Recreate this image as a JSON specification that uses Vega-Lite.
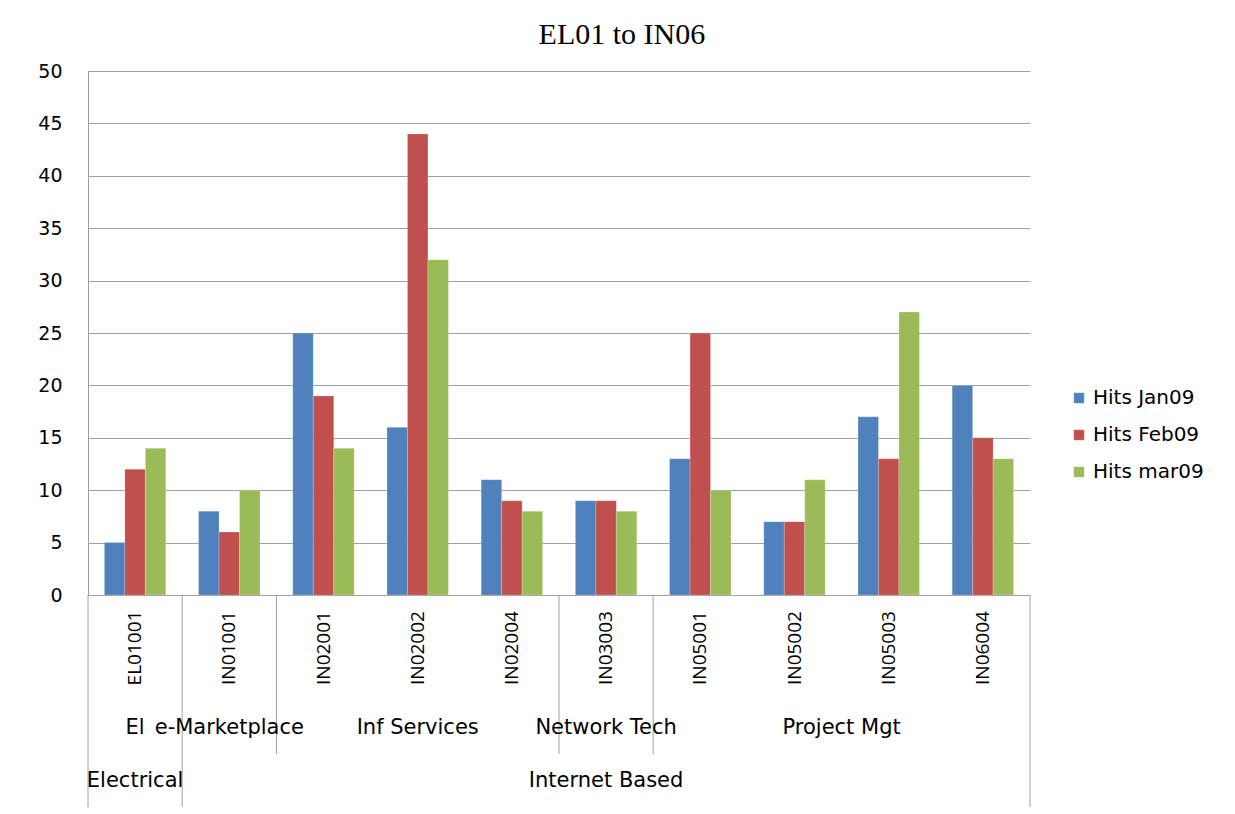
{
  "$schema": "https://vega.github.io/schema/vega-lite/v6.json",
  "autosize": {"type": "pad"},
  "padding": {"left": 37, "top": 20, "right": 0, "bottom": 0},
  "background": "white",
  "title": {"text": "EL01 to IN06", "font": "Liberation Serif", "fontSize": 30, "fontWeight": "normal", "color": "#000", "anchor": "middle", "dx": 1, "offset": 12},
  "spacing": 0,
  "bounds": "flush",
  "datasets": {
    "bars": [
      {"cat": "EL01001", "series": "Hits Jan09", "hits": 5},
      {"cat": "EL01001", "series": "Hits Feb09", "hits": 12},
      {"cat": "EL01001", "series": "Hits mar09", "hits": 14},
      {"cat": "IN01001", "series": "Hits Jan09", "hits": 8},
      {"cat": "IN01001", "series": "Hits Feb09", "hits": 6},
      {"cat": "IN01001", "series": "Hits mar09", "hits": 10},
      {"cat": "IN02001", "series": "Hits Jan09", "hits": 25},
      {"cat": "IN02001", "series": "Hits Feb09", "hits": 19},
      {"cat": "IN02001", "series": "Hits mar09", "hits": 14},
      {"cat": "IN02002", "series": "Hits Jan09", "hits": 16},
      {"cat": "IN02002", "series": "Hits Feb09", "hits": 44},
      {"cat": "IN02002", "series": "Hits mar09", "hits": 32},
      {"cat": "IN02004", "series": "Hits Jan09", "hits": 11},
      {"cat": "IN02004", "series": "Hits Feb09", "hits": 9},
      {"cat": "IN02004", "series": "Hits mar09", "hits": 8},
      {"cat": "IN03003", "series": "Hits Jan09", "hits": 9},
      {"cat": "IN03003", "series": "Hits Feb09", "hits": 9},
      {"cat": "IN03003", "series": "Hits mar09", "hits": 8},
      {"cat": "IN05001", "series": "Hits Jan09", "hits": 13},
      {"cat": "IN05001", "series": "Hits Feb09", "hits": 25},
      {"cat": "IN05001", "series": "Hits mar09", "hits": 10},
      {"cat": "IN05002", "series": "Hits Jan09", "hits": 7},
      {"cat": "IN05002", "series": "Hits Feb09", "hits": 7},
      {"cat": "IN05002", "series": "Hits mar09", "hits": 11},
      {"cat": "IN05003", "series": "Hits Jan09", "hits": 17},
      {"cat": "IN05003", "series": "Hits Feb09", "hits": 13},
      {"cat": "IN05003", "series": "Hits mar09", "hits": 27},
      {"cat": "IN06004", "series": "Hits Jan09", "hits": 20},
      {"cat": "IN06004", "series": "Hits Feb09", "hits": 15},
      {"cat": "IN06004", "series": "Hits mar09", "hits": 13}
    ],
    "labels": [
      {"label": "EL01001", "cat": "EL01001", "level": "id", "anchor": "center"},
      {"label": "IN01001", "cat": "IN01001", "level": "id", "anchor": "center"},
      {"label": "IN02001", "cat": "IN02001", "level": "id", "anchor": "center"},
      {"label": "IN02002", "cat": "IN02002", "level": "id", "anchor": "center"},
      {"label": "IN02004", "cat": "IN02004", "level": "id", "anchor": "center"},
      {"label": "IN03003", "cat": "IN03003", "level": "id", "anchor": "center"},
      {"label": "IN05001", "cat": "IN05001", "level": "id", "anchor": "center"},
      {"label": "IN05002", "cat": "IN05002", "level": "id", "anchor": "center"},
      {"label": "IN05003", "cat": "IN05003", "level": "id", "anchor": "center"},
      {"label": "IN06004", "cat": "IN06004", "level": "id", "anchor": "center"},
      {"label": "El", "cat": "EL01001", "level": "l2", "anchor": "center"},
      {"label": "e-Marketplace", "cat": "IN01001", "level": "l2", "anchor": "center"},
      {"label": "Inf Services", "cat": "IN02002", "level": "l2", "anchor": "center"},
      {"label": "Network Tech", "cat": "IN03003", "level": "l2", "anchor": "center"},
      {"label": "Project Mgt", "cat": "IN05002", "level": "l2", "anchor": "edge"},
      {"label": "Electrical", "cat": "EL01001", "level": "l1", "anchor": "center"},
      {"label": "Internet Based", "cat": "IN03003", "level": "l1", "anchor": "center"}
    ],
    "dividers": [
      {"cat": "EL01001", "edge": "start", "reach": "l1"},
      {"cat": "IN01001", "edge": "start", "reach": "l1"},
      {"cat": "IN02001", "edge": "start", "reach": "l2"},
      {"cat": "IN03003", "edge": "start", "reach": "l2"},
      {"cat": "IN05001", "edge": "start", "reach": "l2"},
      {"cat": "IN06004", "edge": "end", "reach": "l1"}
    ]
  },
  "vconcat": [
    {
      "width": 942,
      "height": 524,
      "data": {"name": "bars"},
      "mark": {"type": "bar"},
      "encoding": {
        "x": {"field": "cat", "type": "nominal", "sort": null,
              "scale": {"domain": ["EL01001","IN01001","IN02001","IN02002","IN02004","IN03003","IN05001","IN05002","IN05003","IN06004"], "paddingInner": 0, "paddingOuter": 0},
              "axis": null},
        "xOffset": {"field": "series", "type": "nominal",
                    "scale": {"domain": ["Hits Jan09","Hits Feb09","Hits mar09"], "paddingInner": 0, "paddingOuter": 0.8}},
        "y": {"field": "hits", "type": "quantitative",
              "scale": {"domain": [0, 50], "nice": false},
              "axis": {"values": [0,5,10,15,20,25,30,35,40,45,50], "title": null, "grid": true, "gridColor": "#a0a0a0", "gridOpacity": 1,
                       "domain": true, "domainColor": "#a0a0a0", "ticks": false, "labelFont": "DejaVu Sans", "labelFontSize": 19,
                       "labelColor": "#000", "labelPadding": 26}},
        "color": {"field": "series", "type": "nominal",
                  "scale": {"domain": ["Hits Jan09","Hits Feb09","Hits mar09"], "range": ["#4F81BD","#C0504D","#9BBB59"]},
                  "legend": {"title": null, "orient": "none", "legendX": 981, "legendY": 317, "symbolType": "square", "symbolSize": 110,
                             "symbolStrokeWidth": 0, "labelFont": "DejaVu Sans", "labelFontSize": 20, "labelColor": "#000", "rowPadding": 17, "labelOffset": 4}}
      }
    },
    {
      "width": 942,
      "height": 106,
      "layer": [
        {
          "data": {"name": "dividers"},
          "transform": [{"filter": "datum.edge == 'start'"}],
          "mark": {"type": "rule", "color": "#a0a0a0", "strokeWidth": 1},
          "encoding": {"x": {"field": "cat", "type": "nominal", "bandPosition": 0,
                             "scale": {"domain": ["EL01001","IN01001","IN02001","IN02002","IN02004","IN03003","IN05001","IN05002","IN05003","IN06004"], "paddingInner": 0, "paddingOuter": 0}, "axis": null}}
        },
        {
          "data": {"name": "dividers"},
          "transform": [{"filter": "datum.edge == 'end'"}],
          "mark": {"type": "rule", "color": "#a0a0a0", "strokeWidth": 1},
          "encoding": {"x": {"field": "cat", "type": "nominal", "bandPosition": 1}}
        },
        {
          "data": {"name": "labels"},
          "transform": [{"filter": "datum.level == 'id'"}],
          "mark": {"type": "text", "angle": 270, "align": "center", "baseline": "middle", "font": "Open Sans", "fontSize": 19, "color": "#000"},
          "encoding": {"x": {"field": "cat", "type": "nominal", "bandPosition": 0.5}, "text": {"field": "label"}}
        }
      ]
    },
    {
      "width": 942,
      "height": 53,
      "layer": [
        {
          "data": {"name": "dividers"},
          "transform": [{"filter": "datum.edge == 'start'"}],
          "mark": {"type": "rule", "color": "#a0a0a0", "strokeWidth": 1},
          "encoding": {"x": {"field": "cat", "type": "nominal", "bandPosition": 0,
                             "scale": {"domain": ["EL01001","IN01001","IN02001","IN02002","IN02004","IN03003","IN05001","IN05002","IN05003","IN06004"], "paddingInner": 0, "paddingOuter": 0}, "axis": null}}
        },
        {
          "data": {"name": "dividers"},
          "transform": [{"filter": "datum.edge == 'end'"}],
          "mark": {"type": "rule", "color": "#a0a0a0", "strokeWidth": 1},
          "encoding": {"x": {"field": "cat", "type": "nominal", "bandPosition": 1}}
        },
        {
          "data": {"name": "labels"},
          "transform": [{"filter": "datum.level == 'l2' && datum.anchor == 'center'"}],
          "mark": {"type": "text", "align": "center", "baseline": "middle", "font": "DejaVu Sans", "fontSize": 21, "color": "#000"},
          "encoding": {"x": {"field": "cat", "type": "nominal", "bandPosition": 0.5}, "text": {"field": "label"}}
        },
        {
          "data": {"name": "labels"},
          "transform": [{"filter": "datum.level == 'l2' && datum.anchor == 'edge'"}],
          "mark": {"type": "text", "align": "center", "baseline": "middle", "font": "DejaVu Sans", "fontSize": 21, "color": "#000"},
          "encoding": {"x": {"field": "cat", "type": "nominal", "bandPosition": 1}, "text": {"field": "label"}}
        }
      ]
    },
    {
      "width": 942,
      "height": 53,
      "layer": [
        {
          "data": {"name": "dividers"},
          "transform": [{"filter": "datum.edge == 'start' && datum.reach == 'l1'"}],
          "mark": {"type": "rule", "color": "#a0a0a0", "strokeWidth": 1},
          "encoding": {"x": {"field": "cat", "type": "nominal", "bandPosition": 0,
                             "scale": {"domain": ["EL01001","IN01001","IN02001","IN02002","IN02004","IN03003","IN05001","IN05002","IN05003","IN06004"], "paddingInner": 0, "paddingOuter": 0}, "axis": null}}
        },
        {
          "data": {"name": "dividers"},
          "transform": [{"filter": "datum.edge == 'end' && datum.reach == 'l1'"}],
          "mark": {"type": "rule", "color": "#a0a0a0", "strokeWidth": 1},
          "encoding": {"x": {"field": "cat", "type": "nominal", "bandPosition": 1}}
        },
        {
          "data": {"name": "labels"},
          "transform": [{"filter": "datum.level == 'l1'"}],
          "mark": {"type": "text", "align": "center", "baseline": "middle", "font": "DejaVu Sans", "fontSize": 21, "color": "#000"},
          "encoding": {"x": {"field": "cat", "type": "nominal", "bandPosition": 0.5}, "text": {"field": "label"}}
        }
      ]
    }
  ],
  "config": {
    "view": {"stroke": null},
    "bar": {"stroke": "#ffffff", "strokeOpacity": 0.35, "strokeWidth": 0.6}
  }
}
